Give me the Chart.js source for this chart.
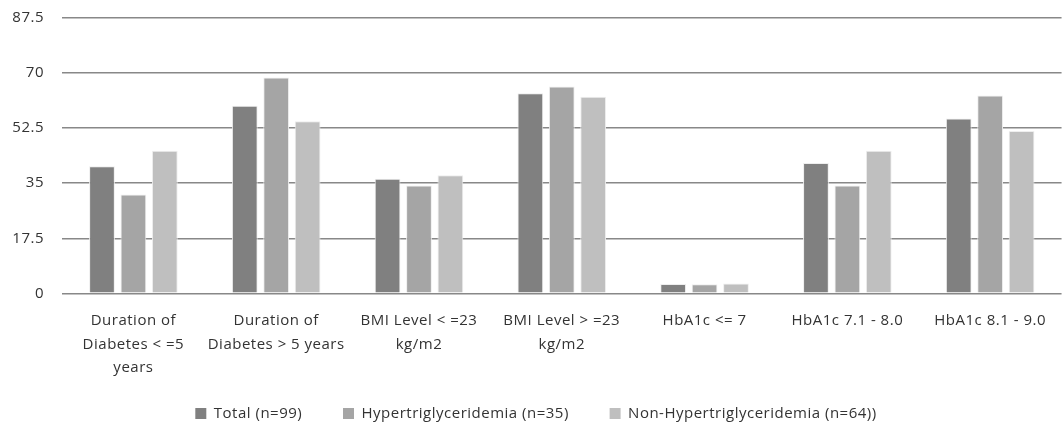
<!DOCTYPE html>
<html>
<head>
<meta charset="utf-8">
<script src="https://cdn.jsdelivr.net/npm/chart.js@4/dist/chart.umd.min.js"></script>
<style>
  html, body { margin: 0; padding: 0; background: #fff; }
  #wrap { width: 1062px; height: 422px; }
</style>
</head>
<body>
<div id="wrap"><canvas id="myChart" width="1062" height="422"></canvas></div>
<script>
// categories along the x axis (multi-line like the original)
var categories = [
    ['Duration of', 'Diabetes < =5', 'years'],
    ['Duration of', 'Diabetes > 5 years'],
    ['BMI Level < =23', 'kg/m2'],
    ['BMI Level > =23', 'kg/m2'],
    'HbA1c <= 7',
    'HbA1c 7.1 - 8.0',
    'HbA1c 8.1 - 9.0'
];

// percentages per group
var totalVals = [40.4, 59.6, 36.4, 63.6, 3.0, 41.4, 55.6];
var hyperVals = [31.4, 68.6, 34.3, 65.7, 2.9, 34.3, 62.9];
var nonHyperVals = [45.3, 54.7, 37.5, 62.5, 3.1, 45.3, 51.6];

var seriesNames = ['Total (n=99)', 'Hypertriglyceridemia (n=35)', 'Non-Hypertriglyceridemia (n=64))'];
var seriesColors = ['#808080', '#a5a5a5', '#bfbfbf'];

var yTicks = [0, 17.5, 35, 52.5, 70, 87.5];

var textColor = '#333333';
var fontFam = '"Open Sans", "Noto Sans", sans-serif';

function makeSet(i, vals) {
    return {
        label: seriesNames[i],
        data: vals,
        backgroundColor: seriesColors[i],
        borderColor: '#eeeeee',
        borderWidth: 1,
        barPercentage: 0.82,
        categoryPercentage: 0.66
    };
}

// the original text is a bit spaced out, canvas state gets reset on resize so set it each time
var spacing = {
    id: 'spacing',
    beforeLayout: function (chart) { chart.ctx.letterSpacing = '0.5px'; },
    beforeDraw: function (chart) { chart.ctx.letterSpacing = '0.5px'; }
};

var ctx = document.getElementById('myChart').getContext('2d');
var myChart = new Chart(ctx, {
    type: 'bar',
    data: {
        labels: categories,
        datasets: [
            makeSet(0, totalVals),
            makeSet(1, hyperVals),
            makeSet(2, nonHyperVals)
        ]
    },
    plugins: [spacing],
    options: {
        responsive: false,
        animation: false,
        layout: { padding: { left: 10, right: 0, top: 18, bottom: -9 } },
        plugins: {
            tooltip: { enabled: false },
            legend: {
                position: 'bottom',
                labels: {
                    boxWidth: 11,
                    boxHeight: 11,
                    padding: 10,
                    color: textColor,
                    font: { family: fontFam, size: 15 },
                    generateLabels: function (chart) {
                        var items = Chart.defaults.plugins.legend.labels.generateLabels(chart);
                        items.forEach(function (it, i) {
                            it.lineWidth = 0;
                            if (i < items.length - 1) it.text = it.text + '       ';
                        });
                        return items;
                    }
                }
            }
        },
        scales: {
            x: {
                grid: { display: false, drawTicks: false },
                border: { display: false },
                ticks: {
                    color: textColor,
                    padding: 16,
                    maxRotation: 0,
                    autoSkip: false,
                    font: { family: fontFam, size: 15, lineHeight: 1.57 }
                }
            },
            y: {
                min: yTicks[0],
                max: yTicks[yTicks.length - 1],
                afterBuildTicks: function (axis) {
                    axis.ticks = yTicks.map(function (v) { return { value: v }; });
                },
                // fixed width, and drop the tick padding chart.js adds above/below
                afterFit: function (axis) {
                    axis.width = 52;
                    axis.paddingTop = 0;
                    axis.paddingBottom = 0;
                },
                grid: { color: '#888888', lineWidth: 1.5, drawTicks: false },
                border: { display: false },
                ticks: {
                    color: textColor,
                    padding: 18,
                    font: { family: fontFam, size: 15 }
                }
            }
        }
    }
});
</script>
</body>
</html>
